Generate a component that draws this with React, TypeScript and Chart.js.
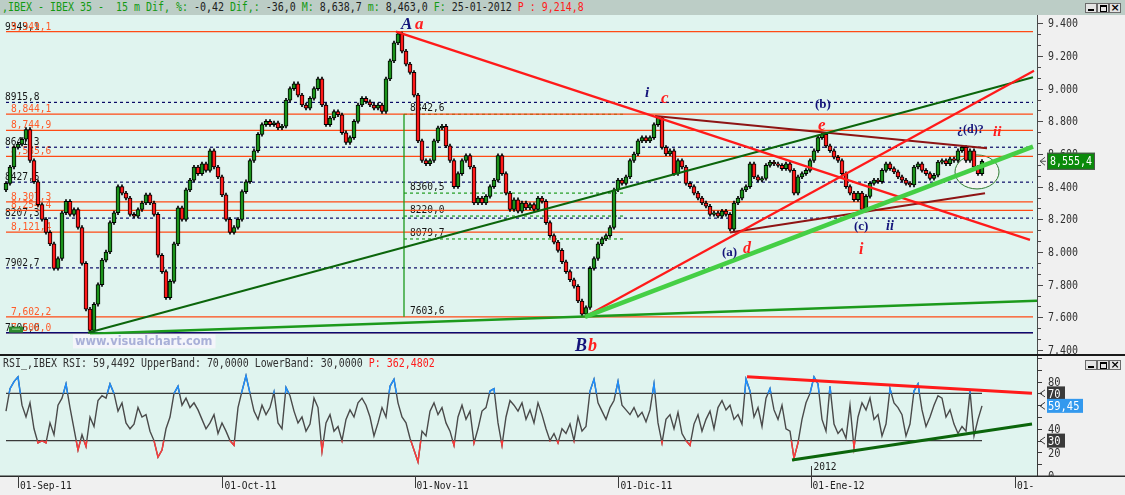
import { useEffect, useRef } from "react";
import { Chart, registerables } from "chart.js";

Chart.register(...registerables);

/* ---------------- price data (IBEX 35, compressed 15 m candles) ---------------- */
const closes: number[] = [
  8420, 8520, 8640, 8660, 8690, 8750, 8560, 8430, 8290, 8200,
  8120, 8050, 7900, 7960, 8240, 8310, 8230, 8260, 8150, 7930,
  7650, 7520, 7680, 7800, 7950, 8000, 8180, 8240, 8400, 8360,
  8330, 8230, 8220, 8260, 8300, 8350, 8300, 8230, 7980, 7880,
  7720, 7820, 8050, 8270, 8200, 8380, 8440, 8520, 8480, 8540,
  8500, 8620, 8520, 8460, 8350, 8200, 8120, 8150, 8200, 8370,
  8430, 8560, 8620, 8720, 8780, 8800, 8780, 8790, 8760, 8770,
  8930, 9000, 9030, 8960, 8900, 8880, 8940, 9000, 9060, 8900,
  8780, 8820, 8860, 8840, 8730, 8670, 8700, 8800, 8900, 8940,
  8920, 8900, 8880, 8900, 8860, 9060, 9170, 9280, 9335, 9230,
  9150, 9100, 8960, 8680, 8560, 8540, 8560, 8680, 8760, 8770,
  8650, 8560, 8400, 8480, 8560, 8590, 8520, 8300, 8330, 8300,
  8340, 8400, 8440, 8590, 8480, 8360, 8260, 8320, 8250, 8300,
  8270, 8290, 8260, 8330, 8310, 8180, 8100, 8060, 8010, 7940,
  7880, 7830, 7790, 7700, 7620, 7660, 7900, 7960, 8050, 8080,
  8100, 8150, 8380, 8440, 8420, 8460, 8560, 8600, 8680, 8700,
  8680, 8700, 8780, 8820, 8640, 8600, 8620, 8480, 8560, 8520,
  8420, 8400, 8360, 8330, 8300, 8280, 8230, 8240, 8220, 8250,
  8230, 8140, 8300, 8330, 8380, 8400, 8540, 8460, 8440, 8450,
  8530, 8550, 8540, 8530, 8510, 8540, 8500, 8360, 8460, 8480,
  8500, 8560, 8620, 8700, 8720, 8650, 8620, 8580, 8560, 8480,
  8400, 8360, 8320, 8360, 8260, 8340, 8420, 8440, 8430, 8500,
  8540, 8510, 8490, 8460, 8440, 8420, 8410, 8520, 8540, 8500,
  8480, 8450, 8470, 8550, 8560, 8540, 8570, 8560, 8620, 8640,
  8560, 8620, 8520, 8480, 8555,
];
const firstOpen = 8380;
const wickPad = 11;
const lastPriceValue = 8555.4;
const lastPriceLabel = "8,555,4";

/* ---------------- RSI data ---------------- */
const rsiValues: number[] = [
  55, 74, 80, 84, 60, 50, 62, 40, 28, 30,
  28, 45, 35, 60, 66, 78, 58, 40, 22, 35,
  25, 50, 42, 64, 68, 66, 78, 70, 55, 62,
  45, 40, 44, 58, 50, 52, 38, 30, 16, 22,
  40, 50, 70, 76, 60, 66, 58, 62, 56, 48,
  40, 45, 52, 36, 45, 38, 30, 26, 58, 72,
  85, 70, 55, 48, 60, 52, 58, 71, 45, 40,
  75, 68, 55, 45, 50, 38, 44, 66, 58, 21,
  45, 52, 38, 42, 30, 48, 56, 50, 62, 66,
  60, 50, 34, 45, 58, 50, 76, 82, 62, 50,
  45, 32, 22, 12, 38, 34, 55, 62, 52, 58,
  45, 38, 26, 50, 60, 48, 55, 28, 40, 55,
  58, 72, 74, 45, 26, 50, 64, 60, 55, 62,
  48, 56, 45, 62, 52, 40, 30, 36, 28, 40,
  36, 44, 30, 50, 38, 42, 72, 82, 62, 55,
  48, 58, 64, 80, 60, 56, 52, 58, 50, 54,
  46, 56, 78, 45, 28, 48, 52, 40, 54, 36,
  30, 26, 44, 52, 38, 48, 55, 40, 58, 64,
  56, 60, 48, 52, 44, 82, 72, 50, 58, 42,
  66, 74, 56, 48, 60, 40, 38, 15, 28, 48,
  62, 70, 84, 78, 48, 38, 76, 44, 36, 40,
  32, 60, 24, 50, 62, 56, 66, 48, 52, 34,
  44, 74, 62, 58, 52, 34, 44, 72, 78, 56,
  42, 50, 60, 68, 66, 50, 56, 44, 36, 42,
  38, 72, 34, 48, 59.45,
];
const rsiLastValue = 59.45;
const rsiLastLabel = "59,45";
const rsiUpper = 70;
const rsiLower = 30;

/* ---------------- horizontal levels ---------------- */
const orangeLevels = [9349.1, 8844.1, 8744.9, 8585.6, 8307.3, 8254.4, 8121.4, 7602.2, 7506.0];
const orangeLabels = ["9,349,1", "8,844,1", "8,744,9", "8,585,6", "8,307,3", "8,254,4", "8,121,4", "7,602,2", "7,506,0"];
const fiboDashedLevels = [8915.8, 8641.3, 8427.5, 8207.3, 7902.7];
const fiboLabelLevels = [9349.1, 8915.8, 8641.3, 8427.5, 8207.3, 7902.7, 7506.0];
const fiboLabels = ["9349,1", "8915,8", "8641,3", "8427,5", "8207,3", "7902,7", "7506,0"];
const baseLevel = 7506.0;
const measureBar = 99.5;
const measureEndBar = 154.25;
const measureTop = 8842.6;
const measureBottom = 7603.6;
const measureDashedLevels = [8842.6, 8360.5, 8220.0, 8079.7];
const measureLabelLevels = [8842.6, 8360.5, 8220.0, 8079.7, 7603.6];
const measureLabels = ["8842,6", "8360,5", "8220,0", "8079,7", "7603,6"];

/* ---------------- trend lines: [bar, price] ---------------- */
const trendRedDown = [[97.5, 9349], [256, 8074]];
const trendRedUp = [[144.75, 7603], [257, 9110]];
const trendDarkGreen = [[20.5, 7506], [256.75, 9070]];
const trendLightGreen = [[144.75, 7603], [256.75, 8645]];
const trendMaroonTop = [[162.25, 8833], [245.25, 8635]];
const trendMaroonLow = [[181, 8119], [244.75, 8360]];
const trendGreenBase = [[21, 7499], [257.75, 7702]];
const rsiTrendRed = [[185.25, 84.2], [256.5, 70.2]];
const rsiTrendGreen = [[196.5, 13.6], [256.5, 44.1]];

/* ---------------- axes ---------------- */
const barMin = -1.5;
const barMax = 257.75;
const priceMin = 7381.6;
const priceMax = 9450.8;
const levelStartBar = 0;
const levelEndBar = 256.75;
const priceMajorTicks = [9400, 9200, 9000, 8800, 8600, 8400, 8200, 8000, 7800, 7600, 7400];
const priceMinorPerMajor = 3;
const rsiTicks = [0, 10, 20, 30, 40, 50, 60, 70, 80, 90, 100];
const rsiLabelTicks = [80, 60, 40, 20, 0];
const monthTickPos = [2.98, 54.1, 102.15, 153.1, 201.15, 252.25];
const monthLabels = ["01-Sep-11", "01-Oct-11", "01-Nov-11", "01-Dic-11", "01-Ene-12", "01-"];
const yearMarkPos = 201.15;
const yearLabel = "2012";

/* ---------------- annotations ---------------- */
const NAVY = "#14147a";
const RED = "#ff1e1e";
const BIG = 'italic bold 17px "Liberation Serif"';
const MID = 'italic bold 16px "Liberation Serif"';
const PAR = 'bold 13px "Liberation Serif"';
const annotations = [
  { text: "A", bar: 98.75, price: 9365, color: NAVY, font: BIG },
  { text: "a", bar: 102.25, price: 9365, color: RED, font: BIG },
  { text: "B", bar: 142.25, price: 7391, color: NAVY, font: 'italic bold 18px "Liberation Serif"' },
  { text: "b", bar: 145.5, price: 7391, color: RED, font: 'italic bold 18px "Liberation Serif"' },
  { text: "i", bar: 159.75, price: 8949, color: NAVY, font: 'italic bold 15px "Liberation Serif"' },
  { text: "c", bar: 163.75, price: 8913, color: RED, font: BIG },
  { text: "(b)", bar: 202.25, price: 8882, color: NAVY, font: PAR },
  { text: "e", bar: 203, price: 8747, color: RED, font: BIG },
  { text: "\u00bf(d)?", bar: 237.75, price: 8729, color: NAVY, font: 'bold 12px "Liberation Serif"' },
  { text: "ii", bar: 246.75, price: 8711, color: RED, font: 'italic bold 15px "Liberation Serif"' },
  { text: "(a)", bar: 179, price: 7977, color: NAVY, font: PAR },
  { text: "d", bar: 184.25, price: 7996, color: RED, font: MID },
  { text: "(c)", bar: 212, price: 8136, color: NAVY, font: PAR },
  { text: "ii", bar: 220, price: 8136, color: NAVY, font: 'italic bold 14px "Liberation Serif"' },
  { text: "i", bar: 213.25, price: 7989, color: RED, font: MID },
];
const watermarkText = "www.visualchart.com";
const watermarkAnchor = [17.25, 7428];
const ellipseCenter = [242.75, 8490];

/* ---------------- header texts ---------------- */
const GREEN_T = "#129a12";
const DARK_T = "#202020";
const RED_T = "#ff1a1a";
const headerSegments: [string, string][] = [
  [",IBEX - IBEX 35 -  15 m Dif, %:", GREEN_T],
  [" -0,42", DARK_T],
  [" Dif,:", GREEN_T],
  [" -36,0", DARK_T],
  [" M:", GREEN_T],
  [" 8,638,7", DARK_T],
  [" m:", GREEN_T],
  [" 8,463,0", DARK_T],
  [" F:", GREEN_T],
  [" 25-01-2012", DARK_T],
  [" P : 9,214,8", RED_T],
];
const rsiHeaderSegments: [string, string][] = [
  ["RSI_,IBEX RSI: 59,4492 UpperBand: 70,0000 LowerBand: 30,0000", "#303030"],
  [" P: 362,4802", RED_T],
];

/* ---------------- styles ---------------- */
const MINT = "#e0f4ef";
const GRAY = "#f0f0f0";
const HEADER_BG = "#bccdc6";
const MONO = '"DejaVu Sans Mono"';
const ORANGE_LINE = "#ff4a14";
const ORANGE_TEXT = "#ff5a28";

function drawText(ctx: any, s: string, x: number, y: number, font: string, color: string, sx = 1, baseline = "alphabetic") {
  ctx.save();
  ctx.font = font;
  ctx.fillStyle = color;
  ctx.textBaseline = baseline;
  ctx.textAlign = "left";
  ctx.translate(x, y);
  ctx.scale(sx, 1);
  ctx.fillText(s, 0, 0);
  ctx.restore();
}

function fmtPrice(v: number) {
  const k = Math.floor(v / 1000);
  return k + "." + String(Math.round(v - k * 1000)).padStart(3, "0");
}

const pts = (p: number[][]) => p.map(([x, y]) => ({ x, y }));
const hline = (v: number, from = levelStartBar, to = levelEndBar) => [{ x: from, y: v }, { x: to, y: v }];
const lineDs = (data: any[], color: string, width: number, order: number, dash: number[] = []) => ({
  type: "line",
  data,
  borderColor: color,
  borderWidth: width,
  borderDash: dash,
  pointRadius: 0,
  fill: false,
  tension: 0,
  order,
});

function mainConfig(): any {
  const opens = closes.map((c, i) => (i === 0 ? firstOpen : closes[i - 1]));
  const bodies = closes.map((c, i) => ({ x: i, y: [opens[i], c] }));
  const wicks = closes.map((c, i) => ({ x: i, y: [Math.min(opens[i], c) - wickPad, Math.max(opens[i], c) + wickPad] }));
  const bodyColors = closes.map((c, i) => (c >= opens[i] ? "#1b931b" : "#ff1a1a"));

  const datasets: any[] = [
    lineDs(pts(trendLightGreen), "#45cf45", 4.5, 0),
    lineDs(pts(trendRedUp), "#ff1a1a", 2.2, 0),
    lineDs(pts(trendRedDown), "#ff1a1a", 2.2, 0),
    lineDs(pts(trendDarkGreen), "#0b650b", 2, 0),
    lineDs(pts(trendMaroonTop), "#8e1414", 2, 0),
    lineDs(pts(trendMaroonLow), "#8e1414", 2, 0),
    lineDs(pts(trendGreenBase), "#1c9a1c", 2.5, 1),
    lineDs([{ x: measureBar, y: measureTop }, { x: measureBar, y: measureBottom }], "#1c9a1c", 1.3, 1),
    {
      type: "bar", data: bodies, backgroundColor: bodyColors, borderColor: "#000", borderWidth: 1,
      borderSkipped: false, barThickness: 4, grouped: false, order: 3,
    },
    { type: "bar", data: wicks, backgroundColor: "#000", barThickness: 1, grouped: false, order: 4 },
    lineDs(hline(baseLevel), "#0a0a70", 1.6, 5),
    ...orangeLevels.map((v) => lineDs(hline(v), ORANGE_LINE, 1.3, 6)),
    ...fiboDashedLevels.map((v) => lineDs(hline(v), "#0a0a66", 1.2, 7, [3, 3])),
    ...measureDashedLevels.map((v) => lineDs(hline(v, measureBar, measureEndBar), "#1c9a1c", 1.2, 7, [3, 3])),
  ];

  const plugin = {
    id: "mainDecor",
    beforeDraw(chart: any) {
      const { ctx, chartArea: a, width, height } = chart;
      ctx.save();
      ctx.fillStyle = GRAY;
      ctx.fillRect(0, 0, width, height);
      ctx.fillStyle = MINT;
      ctx.fillRect(0, 0, a.right, a.bottom + 1);
      ctx.fillStyle = "#1a1a1a";
      ctx.fillRect(0, a.bottom + 1, width, 2);
      ctx.restore();
    },
    beforeDatasetsDraw(chart: any) {
      const { ctx, scales: { x, y } } = chart;
      ctx.save();
      ctx.beginPath();
      ctx.ellipse(x.getPixelForValue(ellipseCenter[0]), y.getPixelForValue(ellipseCenter[1]), 22, 17, 0, 0, Math.PI * 2);
      ctx.fillStyle = "#f3f5f3";
      ctx.fill();
      ctx.strokeStyle = "#2f7a2f";
      ctx.lineWidth = 1;
      ctx.stroke();
      ctx.restore();
      const lf = "11px " + MONO;
      const x0 = x.getPixelForValue(levelStartBar);
      fiboLabelLevels.forEach((v, i) => drawText(ctx, fiboLabels[i], x0 - 1, y.getPixelForValue(v) - 2, lf, "#151515", 0.87));
      orangeLevels.forEach((v, i) => drawText(ctx, orangeLabels[i], x0 + 5, y.getPixelForValue(v) - 2, lf, ORANGE_TEXT, 0.87));
      const mx = x.getPixelForValue(measureBar) + 6;
      measureLabelLevels.forEach((v, i) => drawText(ctx, measureLabels[i], mx, y.getPixelForValue(v) - 3, lf, "#151515", 0.87));
    },
    afterDatasetsDraw(chart: any) {
      const { ctx, scales: { x, y } } = chart;
      const wx = x.getPixelForValue(watermarkAnchor[0]);
      const wy = y.getPixelForValue(watermarkAnchor[1]);
      const wf = 'bold 12px "DejaVu Sans"';
      ctx.save();
      ctx.font = wf;
      const w = ctx.measureText(watermarkText).width * 0.95;
      ctx.fillStyle = "#f4f5fa";
      ctx.fillRect(wx - 2, wy - 11, w + 5, 14);
      ctx.restore();
      drawText(ctx, watermarkText, wx, wy, wf, "#a9b0d8", 0.95);
      ctx.save();
      const bx = x.getPixelForValue(0.75);
      const by = y.getPixelForValue(7543);
      ctx.fillStyle = "#2e8b2e";
      ctx.fillRect(bx, by, 14, 6);
      ctx.fillStyle = "#9fd89f";
      ctx.fillRect(bx + 3, by + 2, 8, 1);
      ctx.restore();
      annotations.forEach((an) =>
        drawText(ctx, an.text, x.getPixelForValue(an.bar), y.getPixelForValue(an.price), an.font, an.color)
      );
    },
    afterDraw(chart: any) {
      const { ctx, chartArea: a, scales: { y } } = chart;
      ctx.save();
      ctx.strokeStyle = "#4a4a4a";
      ctx.lineWidth = 1;
      ctx.beginPath();
      ctx.moveTo(a.right + 0.5, 0);
      ctx.lineTo(a.right + 0.5, a.bottom + 1);
      const step = (priceMajorTicks[0] - priceMajorTicks[1]) / priceMinorPerMajor;
      priceMajorTicks.forEach((v, idx) => {
        const py = Math.round(y.getPixelForValue(v)) + 0.5;
        ctx.moveTo(a.right, py);
        ctx.lineTo(a.right + 6, py);
        if (idx > 0) {
          for (let k = 1; k < priceMinorPerMajor; k++) {
            const pm = Math.round(y.getPixelForValue(v + k * step)) + 0.5;
            ctx.moveTo(a.right, pm);
            ctx.lineTo(a.right + 4, pm);
          }
        }
      });
      ctx.stroke();
      ctx.restore();
      priceMajorTicks.forEach((v) =>
        drawText(ctx, fmtPrice(v), a.right + 11, y.getPixelForValue(v) + 1, "12px " + MONO, "#303030", 0.83, "middle")
      );
      const py = y.getPixelForValue(lastPriceValue);
      ctx.save();
      ctx.fillStyle = "#0a8a0a";
      ctx.fillRect(a.right + 10, py - 8.5, 48, 17);
      ctx.strokeStyle = "#505050";
      ctx.strokeRect(a.right + 10.5, py - 8, 47, 16);
      ctx.beginPath();
      ctx.moveTo(a.right + 8, py - 4);
      ctx.lineTo(a.right + 3, py);
      ctx.lineTo(a.right + 8, py + 4);
      ctx.moveTo(a.right + 3, py);
      ctx.lineTo(a.right + 9, py);
      ctx.stroke();
      ctx.restore();
      drawText(ctx, lastPriceLabel, a.right + 13, py + 1, "12px " + MONO, "#ffffff", 0.83, "middle");
    },
  };

  return {
    type: "bar",
    data: { datasets },
    options: {
      animation: false,
      responsive: false,
      maintainAspectRatio: false,
      events: [],
      layout: { padding: { left: 0, right: 88, top: 0, bottom: 3 } },
      plugins: { legend: { display: false }, tooltip: { enabled: false } },
      scales: {
        x: { type: "linear", min: barMin, max: barMax, offset: false, display: false },
        y: { type: "linear", min: priceMin, max: priceMax, display: false },
      },
    },
    plugins: [plugin],
  };
}

function rsiConfig(): any {
  const rsiPts = rsiValues.map((v, i) => ({ x: i, y: v }));
  const lastBar = rsiValues.length - 1;
  const datasets: any[] = [
    lineDs(pts(rsiTrendRed), "#ff1a1a", 3, 0),
    lineDs(pts(rsiTrendGreen), "#0b650b", 3, 0),
    { ...lineDs(rsiPts, "#1e8fff", 1.4, 1), zone: "high" },
    { ...lineDs(rsiPts, "#ff3a3a", 1.4, 1), zone: "low" },
    lineDs(rsiPts, "#4a4a4a", 1.4, 2),
    lineDs(hline(rsiUpper, 0, lastBar), "#3a3a3a", 1.3, 3),
    lineDs(hline(rsiLower, 0, lastBar), "#3a3a3a", 1.3, 3),
  ];

  const plugin = {
    id: "rsiDecor",
    beforeDraw(chart: any) {
      const { ctx, chartArea: a, width, height } = chart;
      ctx.save();
      ctx.fillStyle = GRAY;
      ctx.fillRect(0, 0, width, height);
      ctx.fillStyle = MINT;
      ctx.fillRect(0, 0, a.right, a.bottom);
      ctx.restore();
    },
    beforeDatasetDraw(chart: any, args: any) {
      const ds = chart.data.datasets[args.index];
      if (!ds.zone) return;
      const { ctx, chartArea: a, scales: { y } } = chart;
      ctx.save();
      ctx.beginPath();
      if (ds.zone === "high") {
        const p = y.getPixelForValue(rsiUpper);
        ctx.rect(a.left, a.top - 5, a.right - a.left, p - a.top + 5);
      } else {
        const p = y.getPixelForValue(rsiLower);
        ctx.rect(a.left, p, a.right - a.left, a.bottom - p + 5);
      }
      ctx.clip();
    },
    afterDatasetDraw(chart: any, args: any) {
      const ds = chart.data.datasets[args.index];
      if (ds.zone) chart.ctx.restore();
    },
    afterDraw(chart: any) {
      const { ctx, chartArea: a, scales: { x, y }, width } = chart;
      ctx.save();
      ctx.strokeStyle = "#3a3a3a";
      ctx.lineWidth = 1;
      ctx.beginPath();
      ctx.moveTo(a.right + 0.5, 0);
      ctx.lineTo(a.right + 0.5, a.bottom);
      rsiTicks.forEach((v) => {
        const py = Math.round(y.getPixelForValue(v)) + 0.5;
        ctx.moveTo(a.right, py);
        ctx.lineTo(a.right + 5, py);
      });
      ctx.stroke();
      ctx.fillStyle = "#2a2a2a";
      ctx.fillRect(0, a.bottom - 0.5, width, 1.5);
      ctx.beginPath();
      monthTickPos.forEach((m) => {
        const px = Math.round(x.getPixelForValue(m)) + 0.5;
        ctx.moveTo(px, a.bottom);
        ctx.lineTo(px, a.bottom + 12);
      });
      const yx = Math.round(x.getPixelForValue(yearMarkPos)) + 0.5;
      ctx.moveTo(yx, a.bottom - 10);
      ctx.lineTo(yx, a.bottom);
      ctx.stroke();
      ctx.restore();
      monthTickPos.forEach((m, i) =>
        drawText(ctx, monthLabels[i], x.getPixelForValue(m) + 2, a.bottom + 10, "11px " + MONO, "#202020", 0.87, "middle")
      );
      drawText(ctx, yearLabel, yx + 2, a.bottom - 9, "11px " + MONO, "#202020", 0.87, "middle");
      ctx.save();
      ctx.beginPath();
      ctx.rect(a.right, 0, width - a.right, a.bottom);
      ctx.clip();
      rsiLabelTicks.forEach((v) =>
        drawText(ctx, String(v), a.right + 11, y.getPixelForValue(v) + 1, "12px " + MONO, "#303030", 0.87, "middle")
      );
      const box = (val: number, label: string, bg: string, w: number) => {
        const py = y.getPixelForValue(val);
        ctx.fillStyle = bg;
        ctx.fillRect(a.right + 10, py - 7, w, 14);
        ctx.strokeStyle = "#3a3a3a";
        ctx.beginPath();
        ctx.moveTo(a.right + 8, py - 3.5);
        ctx.lineTo(a.right + 3, py);
        ctx.lineTo(a.right + 8, py + 3.5);
        ctx.stroke();
        drawText(ctx, label, a.right + 11, py + 1, "12px " + MONO, "#ffffff", 0.87, "middle");
      };
      box(rsiUpper, String(rsiUpper), "#3a3a3a", 18);
      box(rsiLower, String(rsiLower), "#3a3a3a", 18);
      box(rsiLastValue, rsiLastLabel, "#3399ee", 36);
      ctx.restore();
    },
  };

  return {
    type: "line",
    data: { datasets },
    options: {
      animation: false,
      responsive: false,
      maintainAspectRatio: false,
      events: [],
      layout: { padding: { left: 0, right: 88, top: 2, bottom: 19 } },
      plugins: { legend: { display: false }, tooltip: { enabled: false } },
      scales: {
        x: { type: "linear", min: barMin, max: barMax, display: false },
        y: { type: "linear", min: 0, max: 100, display: false },
      },
    },
    plugins: [plugin],
  };
}

function WinButtons({ top }: { top: number }) {
  const base: any = {
    position: "absolute", top, width: 10, height: 8, background: "#e4e4e4",
    border: "1px solid #6a6a6a", boxSizing: "content-box",
  };
  return (
    <>
      <div style={{ ...base, left: 1085 }}>
        <div style={{ position: "absolute", left: 2, top: 5, width: 6, height: 2, background: "#000" }} />
      </div>
      <div style={{ ...base, left: 1097 }}>
        <div style={{ position: "absolute", left: 2, top: 1, width: 5, height: 4, border: "1px solid #000", borderTopWidth: 2 }} />
      </div>
      <div style={{ ...base, left: 1109 }}>
        <div style={{ position: "absolute", left: 0, top: -3, width: 10, textAlign: "center", font: "bold 11px 'DejaVu Sans'", color: "#000" }}>
          {"\u00d7"}
        </div>
      </div>
    </>
  );
}

const textLine = (left: number, top: number, h: number): any => ({
  position: "absolute", left, top, height: h, lineHeight: h + "px", whiteSpace: "pre",
  fontFamily: "DejaVu Sans Mono", fontSize: 12, transform: "scaleX(0.83)", transformOrigin: "left center",
});

export default function App() {
  const mainRef = useRef<HTMLCanvasElement>(null);
  const rsiRef = useRef<HTMLCanvasElement>(null);
  useEffect(() => {
    const main = new Chart(mainRef.current as HTMLCanvasElement, mainConfig());
    const rsi = new Chart(rsiRef.current as HTMLCanvasElement, rsiConfig());
    return () => {
      main.destroy();
      rsi.destroy();
    };
  }, []);
  return (
    <div style={{ position: "fixed", left: 0, top: 0, width: 1125, height: 495, background: GRAY, overflow: "hidden" }}>
      <div style={{ position: "absolute", left: 0, top: 0, width: 1125, height: 15, background: HEADER_BG }} />
      <div style={textLine(2, 0, 15)}>
        {headerSegments.map(([t, c], i) => (
          <span key={i} style={{ color: c }}>{t}</span>
        ))}
      </div>
      <WinButtons top={3} />
      <canvas ref={mainRef} width={1125} height={341} style={{ position: "absolute", left: 0, top: 15 }} />
      <canvas ref={rsiRef} width={1125} height={139} style={{ position: "absolute", left: 0, top: 356 }} />
      <div style={textLine(3, 357, 13)}>
        {rsiHeaderSegments.map(([t, c], i) => (
          <span key={i} style={{ color: c }}>{t}</span>
        ))}
      </div>
      <WinButtons top={360} />
    </div>
  );
}
